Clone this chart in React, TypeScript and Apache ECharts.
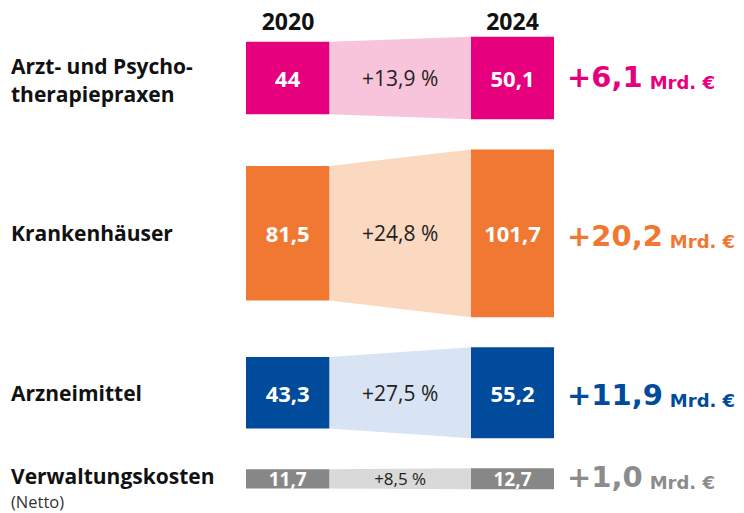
import React, { useEffect, useRef } from "react";
import * as echarts from "echarts";

const categories = ["Arzt- und Psycho-\ntherapiepraxen", "Krankenhäuser", "Arzneimittel", "Verwaltungskosten"];
const subLabels = ["", "", "", "(Netto)"];
const years = ["2020", "2024"];
const values2020 = [44, 81.5, 43.3, 11.7];
const values2024 = [50.1, 101.7, 55.2, 12.7];
const darkColors = ["#E6007E", "#F07832", "#004B9B", "#878787"];
const lightColors = ["#F7C4DB", "#FBD8C0", "#D8E4F3", "#D9D9D9"];
const deltaColors = ["#E6007E", "#F07832", "#004B9B", "#8C8C8C"];
const unitLabel = "Mrd. €";

const FONT = "'Open Sans', 'Noto Sans', sans-serif";
const WIDE = "'DejaVu Sans', 'Open Sans', sans-serif";
const GAP = 18.2; // gap between rows, in value units

function fmt(v: number): string {
  return Number.isInteger(v) ? String(v) : v.toFixed(1).replace(".", ",");
}

export default function App() {
  const ref = useRef<HTMLDivElement>(null);

  useEffect(() => {
    if (!ref.current) return;
    const chart = echarts.init(ref.current, null, { renderer: "svg" });

    const centers: number[] = [];
    let acc = 0;
    values2020.forEach((v, i) => {
      const m = Math.max(v, values2024[i]);
      centers.push(acc + m / 2);
      acc += m + (i < values2020.length - 1 ? GAP : 0);
    });
    const total = acc;

    const data = values2020.map((v, i) => [centers[i], v, values2024[i]]);

    const option: any = {
      animation: false,
      grid: { left: 246, width: 308, top: 36.7, height: 452.6 },
      xAxis: { type: "value", min: 0, max: 1, show: false },
      yAxis: { type: "value", min: 0, max: total, inverse: true, show: false },
      graphic: [
        {
          type: "text",
          x: 288,
          y: 21,
          style: { text: years[0], font: `bold 23px ${FONT}`, fill: "#111", align: "center", verticalAlign: "middle" },
        },
        {
          type: "text",
          x: 512.5,
          y: 21,
          style: { text: years[1], font: `bold 23px ${FONT}`, fill: "#111", align: "center", verticalAlign: "middle" },
        },
      ],
      series: [
        {
          type: "custom",
          coordinateSystem: "cartesian2d",
          data,
          clip: false,
          renderItem: (params: any, api: any) => {
            const i = params.dataIndex;
            const c = api.value(0);
            const v1 = api.value(1);
            const v2 = api.value(2);
            const x0 = api.coord([0, 0])[0];
            const x3 = api.coord([1, 0])[0];
            const x1 = x0 + 83.3;
            const x2 = x3 - 83;
            const t1 = api.coord([0, c - v1 / 2])[1];
            const b1 = api.coord([0, c + v1 / 2])[1];
            const t2 = api.coord([0, c - v2 / 2])[1];
            const b2 = api.coord([0, c + v2 / 2])[1];
            const cy = api.coord([0, c])[1];
            const small = i === 3;
            const valFont = small ? `bold 19px ${FONT}` : `bold 22px ${FONT}`;
            const pctFont = small ? `17px ${FONT}` : `21px ${FONT}`;
            const pct = ((v2 / v1 - 1) * 100).toFixed(1).replace(".", ",");
            const diff = (v2 - v1).toFixed(1).replace(".", ",");
            const children: any[] = [
              {
                type: "polygon",
                shape: { points: [[x1, t1], [x2, t2], [x2, b2], [x1, b1]] },
                style: { fill: lightColors[i] },
              },
              { type: "rect", shape: { x: x0, y: t1, width: x1 - x0, height: b1 - t1 }, style: { fill: darkColors[i] } },
              { type: "rect", shape: { x: x2, y: t2, width: x3 - x2, height: b2 - t2 }, style: { fill: darkColors[i] } },
              {
                type: "text",
                x: (x0 + x1) / 2,
                y: cy,
                style: { text: fmt(v1), font: valFont, fill: "#fff", align: "center", verticalAlign: "middle" },
              },
              {
                type: "text",
                x: (x2 + x3) / 2,
                y: cy,
                style: { text: fmt(v2), font: valFont, fill: "#fff", align: "center", verticalAlign: "middle" },
              },
              {
                type: "text",
                x: (x1 + x2) / 2,
                y: cy,
                style: { text: `+${pct} %`, font: pctFont, fill: "#222", align: "center", verticalAlign: "middle" },
              },
              {
                type: "text",
                x: 11,
                y: i === 0 ? cy + 2 : i === 3 ? cy - 3 : cy,
                style: {
                  text: categories[i],
                  font: `bold 21px ${FONT}`,
                  lineHeight: i === 0 ? 28 : 22,
                  fill: "#111",
                  align: "left",
                  verticalAlign: "middle",
                },
              },
              {
                type: "text",
                x: 567,
                y: i === 0 || i === 3 ? cy - 4 : cy,
                style: {
                  text: `{big|+${diff}}{unit|${unitLabel}}`,
                  align: "left",
                  verticalAlign: "middle",
                  rich: {
                    big: { font: `bold 29px ${WIDE}`, fill: deltaColors[i], lineHeight: 34, verticalAlign: "bottom" },
                    unit: {
                      font: `bold 18px ${WIDE}`,
                      fill: deltaColors[i],
                      lineHeight: 22,
                      verticalAlign: "bottom",
                      padding: [0, 0, 0, 7],
                    },
                  },
                },
              },
            ];
            if (subLabels[i]) {
              children.push({
                type: "text",
                x: 11,
                y: cy + 23,
                style: {
                  text: subLabels[i],
                  font: `16.5px ${FONT}`,
                  lineHeight: 18,
                  fill: "#333",
                  align: "left",
                  verticalAlign: "middle",
                },
              });
            }
            return { type: "group", children };
          },
        },
      ],
    };

    chart.setOption(option);
    return () => chart.dispose();
  }, []);

  return <div ref={ref} style={{ width: 744, height: 513, position: "absolute", left: 0, top: 0 }} />;
}
